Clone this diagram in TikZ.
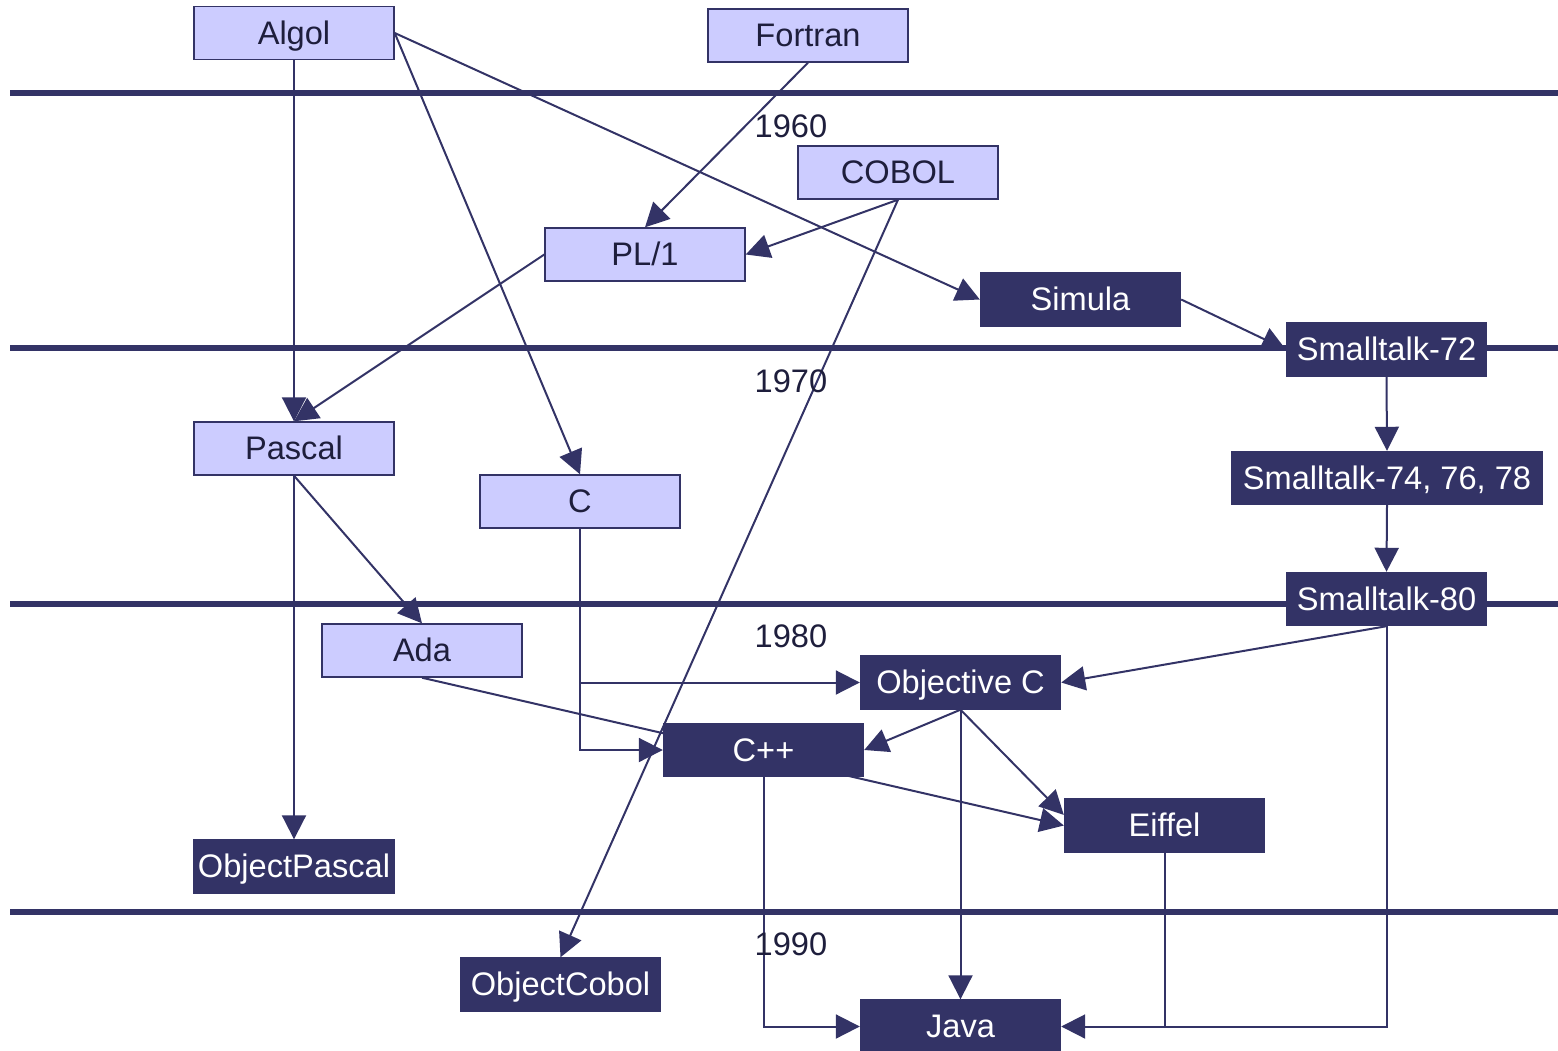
\documentclass[tikz,border=0pt]{standalone}
\usepackage{fontspec}
\setmainfont{Liberation Sans}
\usetikzlibrary{arrows.meta}
\definecolor{navy}{RGB}{51,51,102}
\definecolor{lav}{RGB}{204,204,255}
\definecolor{txtdark}{RGB}{30,30,60}
\pgfdeclarelayer{bg}
\pgfsetlayers{bg,main}
\begin{document}
\begin{tikzpicture}[x=0.5pt,y=-0.5pt,
  boxbase/.style={line width=0.7pt,minimum width=100pt,minimum height=26.5pt,inner sep=0pt,text height=11pt,text depth=0pt,font=\fontsize{16.3}{19}\selectfont},
  lightbox/.style={boxbase,draw=navy,fill=lav,text=txtdark},
  darkbox/.style={boxbase,draw=navy,fill=navy,text=white},
  conn/.style={draw=navy,line width=1pt,-{Triangle[length=12pt,width=12pt]}},
  plainline/.style={draw=navy,line width=1pt},
  bar/.style={draw=navy,line width=3pt},
  year/.style={text=txtdark,inner sep=0pt,font=\fontsize{16.3}{19}\selectfont}]
\useasboundingbox (0,0) rectangle (1558,1050);
\clip (0,0) rectangle (1558,1050);

% boxes
\node[lightbox] (algol) at (294,33) {Algol};
\node[lightbox] (fortran) at (808,35.5) {Fortran};
\node[lightbox] (cobol) at (898,172.5) {COBOL};
\node[lightbox] (pl1) at (645,254.5) {PL/1};
\node[lightbox] (pascal) at (294,448.5) {Pascal};
\node[lightbox] (c) at (580,501.5) {C};
\node[lightbox] (ada) at (422,650.5) {Ada};

\node[darkbox] (simula) at (1080.5,299.5) {Simula};
\node[darkbox] (st72) at (1386.5,349.5) {Smalltalk-72};
\node[darkbox,minimum width=155pt] (st74) at (1387,478) {Smalltalk-74, 76, 78};
\node[darkbox] (st80) at (1386.5,599) {Smalltalk-80};
\node[darkbox] (objc) at (960.5,682.5) {Objective C};
\node[darkbox] (cpp) at (763.5,750) {C++};
\node[darkbox] (eiffel) at (1164.5,825.5) {Eiffel};
\node[darkbox] (opascal) at (294,866.5) {ObjectPascal};
\node[darkbox] (ocobol) at (560.5,984.5) {ObjectCobol};
\node[darkbox] (java) at (960.5,1026.5) {Java};

% years
\node[year] (y60) at (791,126) {1960};
\node[year] (y70) at (791,381) {1970};
\node[year] (y80) at (791,636) {1980};
\node[year] (y90) at (791,944) {1990};

\begin{pgfonlayer}{bg}
  \coordinate (b1l) at (10,93);  \coordinate (b1r) at (1558,93);
  \coordinate (b2l) at (10,348); \coordinate (b2r) at (1558,348);
  \coordinate (b3l) at (10,604); \coordinate (b3r) at (1558,604);
  \coordinate (b4l) at (10,912); \coordinate (b4r) at (1558,912);
  \draw[bar] (b1l) -- (b1r);
  \draw[bar] (b2l) -- (b2r);
  \draw[bar] (b3l) -- (b3r);
  \draw[bar] (b4l) -- (b4r);

  \draw[conn] (algol.south) -- (pascal.north);
  \draw[conn] (algol.east) -- (c.north);
  \draw[conn] (algol.east) -- (simula.west);
  \draw[conn] (fortran.south) -- (pl1.north);
  \draw[conn] (cobol.south) -- (pl1.east);
  \draw[conn] (cobol.south) -- (ocobol.north);
  \draw[conn] (pl1.west) -- (pascal.north);
  \draw[conn] (simula.east) -- (st72.west);
  \draw[conn] (st72.south) -- (st74.north);
  \draw[conn] (st74.south) -- (st80.north);
  \draw[conn] (st80.south) -- (objc.east);
  \draw[conn] (st80.south) |- (java.east);
  \coordinate (ej) at (eiffel.south |- java.east);
  \draw[plainline] (eiffel.south) -- (ej);
  \draw[conn] (pascal.south) -- (opascal.north);
  \draw[conn] (pascal.south) -- (ada.north);
  \draw[conn] (c.south) |- (objc.west);
  \draw[conn] (c.south) |- (cpp.west);
  \draw[conn] (ada.south) -- (eiffel.west);
  \draw[conn] (objc.south) -- (cpp.east);
  \draw[conn] (objc.south) -- (eiffel.174);
  \draw[conn] (objc.south) -- (java.north);
  \draw[conn] (cpp.south) |- (java.west);
\end{pgfonlayer}
\end{tikzpicture}
\end{document}
